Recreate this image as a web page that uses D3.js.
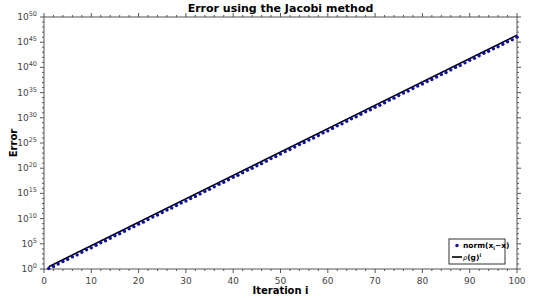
<!DOCTYPE html>
<html>
<head>
<meta charset="utf-8">
<script src="https://cdn.jsdelivr.net/npm/d3@7"></script>
<style>
  body { margin: 0; background: #fff; }
  text { font-family: "DejaVu Sans", sans-serif; }
</style>
</head>
<body>
<div id="chart"></div>
<script>
// iterations 1..100 and log10 of the error
const iterations = d3.range(1, 101);
const errorExp = [
  0.1, 0.5, 1.0, 1.5, 1.9, 2.4, 2.8, 3.3, 3.8, 4.2,
  4.7, 5.2, 5.6, 6.1, 6.6, 7.0, 7.5, 8.0, 8.4, 8.9,
  9.3, 9.8, 10.3, 10.7, 11.2, 11.7, 12.1, 12.6, 13.1, 13.5,
  14.0, 14.4, 14.9, 15.4, 15.8, 16.3, 16.8, 17.2, 17.7, 18.2,
  18.6, 19.1, 19.6, 20.0, 20.5, 20.9, 21.4, 21.9, 22.3, 22.8,
  23.3, 23.7, 24.2, 24.7, 25.1, 25.6, 26.0, 26.5, 27.0, 27.4,
  27.9, 28.4, 28.8, 29.3, 29.8, 30.2, 30.7, 31.2, 31.6, 32.1,
  32.5, 33.0, 33.5, 33.9, 34.4, 34.9, 35.3, 35.8, 36.3, 36.7,
  37.2, 37.6, 38.1, 38.6, 39.0, 39.5, 40.0, 40.4, 40.9, 41.4,
  41.8, 42.3, 42.8, 43.2, 43.7, 44.1, 44.6, 45.1, 45.5, 46.0
];
// bound rho(g)^i at the ends of the run
const boundIter = [1, 100];
const boundExp = [0.46, 46.4];

const xTicks = d3.range(0, 101, 10);
const yTickExp = d3.range(0, 51, 5);

const width = 540, height = 298;
const mLeft = 44, mRight = 517, mTop = 17, mBottom = 269;

const svg = d3.select("#chart").append("svg").attr("width", width).attr("height", height);

const x = d3.scaleLinear().domain([0, 100]).range([mLeft, mRight]);
const y = d3.scaleLog().domain([1, 1e50]).range([mBottom, mTop]);

// box
svg.append("rect").attr("x", mLeft).attr("y", mTop)
  .attr("width", mRight - mLeft).attr("height", mBottom - mTop)
  .attr("fill", "none").attr("stroke", "#555").attr("stroke-width", 1);

const tickColor = "#555";
// x ticks (outward), bottom and top
const xMinor = d3.range(0, 101, 2);
[[mBottom, 1], [mTop, -1]].forEach(([yy, dir]) => {
  svg.append("g").selectAll("line").data(xMinor).join("line")
    .attr("x1", d => x(d)).attr("x2", d => x(d))
    .attr("y1", yy).attr("y2", d => yy + dir * (d % 10 === 0 ? 4 : 2))
    .attr("stroke", tickColor);
});
svg.append("g").selectAll("text").data(xTicks).join("text")
  .attr("x", d => x(d)).attr("y", 284)
  .attr("text-anchor", "middle").attr("font-size", 9).attr("fill", "#444")
  .text(d => d);

// y ticks (outward), left and right
const yMinor = d3.range(0, 51, 1);
[[mLeft, -1], [mRight, 1]].forEach(([xx, dir]) => {
  svg.append("g").selectAll("line").data(yMinor).join("line")
    .attr("y1", d => y(Math.pow(10, d))).attr("y2", d => y(Math.pow(10, d)))
    .attr("x1", xx).attr("x2", d => xx + dir * (d % 5 === 0 ? 4 : 2))
    .attr("stroke", tickColor);
});
const yl = svg.append("g").selectAll("text").data(yTickExp).join("text")
  .attr("x", 37).attr("y", d => y(Math.pow(10, d)) + 3)
  .attr("text-anchor", "end").attr("font-size", 9).attr("fill", "#444");
yl.append("tspan").text("10");
yl.append("tspan").attr("dy", -4).attr("font-size", 6.5).text(d => d);

// bound line
const boundData = boundIter.map((d, i) => [d, Math.pow(10, boundExp[i])]);
svg.append("path").datum(boundData)
  .attr("d", d3.line().x(d => x(d[0])).y(d => y(d[1])))
  .attr("fill", "none").attr("stroke", "#000").attr("stroke-width", 1.6);

// error points
svg.append("g").selectAll("circle").data(iterations).join("circle")
  .attr("cx", (d, i) => x(d)).attr("cy", (d, i) => y(Math.pow(10, errorExp[i])))
  .attr("r", 1.7).attr("fill", "#1010a8");

// titles
svg.append("text").attr("x", (mLeft + mRight) / 2).attr("y", 12)
  .attr("text-anchor", "middle").attr("font-size", 11).attr("font-weight", "bold")
  .text("Error using the Jacobi method");
svg.append("text").attr("x", (mLeft + mRight) / 2).attr("y", 294)
  .attr("text-anchor", "middle").attr("font-size", 10).attr("font-weight", "bold")
  .text("Iteration i");
svg.append("text").attr("transform", `translate(17, ${(mTop + mBottom) / 2}) rotate(-90)`)
  .attr("text-anchor", "middle").attr("font-size", 10).attr("font-weight", "bold")
  .text("Error");

// legend
const lg = svg.append("g").attr("transform", "translate(449, 239)");
lg.append("rect").attr("width", 56).attr("height", 25)
  .attr("fill", "#fff").attr("stroke", "#333").attr("stroke-width", 1);
lg.append("circle").attr("cx", 8).attr("cy", 6.5).attr("r", 1.7).attr("fill", "#1010a8");
const t1 = lg.append("text").attr("x", 14).attr("y", 9).attr("font-size", 7.5).attr("font-weight", "bold");
t1.append("tspan").text("norm(x");
t1.append("tspan").attr("dy", 2).attr("font-size", 5).text("i");
t1.append("tspan").attr("dy", -2).text("−x)");
lg.append("line").attr("x1", 3).attr("x2", 13).attr("y1", 18).attr("y2", 18)
  .attr("stroke", "#000").attr("stroke-width", 1.6);
const t2 = lg.append("text").attr("x", 14).attr("y", 21).attr("font-size", 7.5).attr("font-weight", "bold");
t2.append("tspan").attr("font-size", 6.5).attr("font-weight", "normal").attr("font-style", "italic").text("ρ");
t2.append("tspan").text("(g)");
t2.append("tspan").attr("dy", -3).attr("font-size", 5).text("i");
</script>
</body>
</html>
